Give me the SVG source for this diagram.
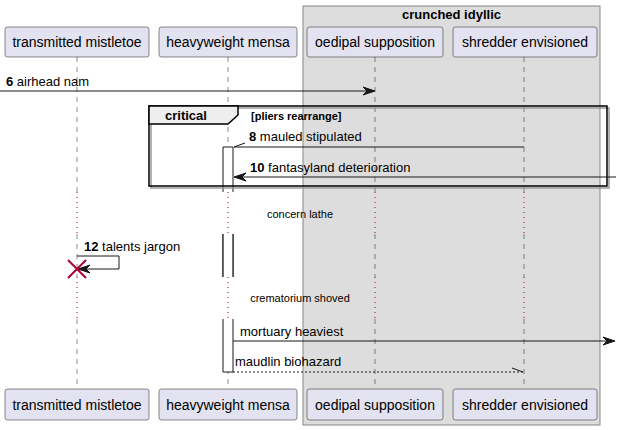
<svg xmlns="http://www.w3.org/2000/svg" width="621" height="430" viewBox="0 0 621 430">
<defs>
<style>
text{font-family:"Liberation Sans",Arial,sans-serif;fill:#000}
.pbox{fill:#E2E2F0;stroke:#181818;stroke-width:0.5}
.pt{font-size:14px;text-anchor:middle}
.life{stroke:#181818;stroke-width:0.5;stroke-dasharray:5,5;fill:none}
.delay{stroke:#A80036;stroke-width:1;stroke-dasharray:1,4;fill:none}
.msg{stroke:#181818;stroke-width:1;fill:none}
.dash{stroke:#181818;stroke-width:1;stroke-dasharray:2,2;fill:none}
.ah{fill:#181818;stroke:#181818;stroke-width:1}
.act{fill:#FFFFFF;stroke:#181818;stroke-width:1}
.mt{font-size:13px}
.b{font-weight:bold}
.dt{font-size:11px;text-anchor:middle}
</style>
</defs>
<g id="box-crunched-idyllic">
<rect x="303" y="6" width="297" height="419" fill="#DDDDDD" stroke="#888888" stroke-width="1"/>
<text x="451.5" y="19" font-size="13" font-weight="bold" text-anchor="middle">crunched idyllic</text>
</g>
<g id="lifelines">
<line class="life" x1="77" y1="57" x2="77" y2="192"/>
<line class="delay" x1="77" y1="192" x2="77" y2="234"/>
<line class="life" x1="77" y1="234" x2="77" y2="277"/>
<line class="delay" x1="77" y1="277" x2="77" y2="319"/>
<line class="life" x1="77" y1="319" x2="77" y2="389"/>
<line class="life" x1="228" y1="57" x2="228" y2="192"/>
<line class="delay" x1="228" y1="192" x2="228" y2="234"/>
<line class="life" x1="228" y1="234" x2="228" y2="277"/>
<line class="delay" x1="228" y1="277" x2="228" y2="319"/>
<line class="life" x1="228" y1="319" x2="228" y2="389"/>
<line class="life" x1="375" y1="57" x2="375" y2="192"/>
<line class="delay" x1="375" y1="192" x2="375" y2="234"/>
<line class="life" x1="375" y1="234" x2="375" y2="277"/>
<line class="delay" x1="375" y1="277" x2="375" y2="319"/>
<line class="life" x1="375" y1="319" x2="375" y2="389"/>
<line class="life" x1="524" y1="57" x2="524" y2="192"/>
<line class="delay" x1="524" y1="192" x2="524" y2="234"/>
<line class="life" x1="524" y1="234" x2="524" y2="277"/>
<line class="delay" x1="524" y1="277" x2="524" y2="319"/>
<line class="life" x1="524" y1="319" x2="524" y2="389"/>
</g>
<g id="activations">
<path class="act" d="M223,192 L223,147 L233,147 L233,192"/>
<path class="act" d="M223,234 L223,277 M233,234 L233,277" />
<rect x="223.5" y="234" width="9" height="43" fill="#FFFFFF" stroke="none"/>
<path class="act" d="M223,234 L223,277 M233,234 L233,277"/>
<path class="act" d="M223,319 L223,372 L233,372 L233,319"/>
</g>
<g id="frame-critical">
<rect x="151" y="108" width="458" height="80" fill="none" stroke="#999999" stroke-width="1.5"/>
<rect x="149" y="106" width="458" height="80" fill="none" stroke="#000000" stroke-width="1.5"/>
<path d="M149,106 L238,106 L238,115 L228,124 L149,124 Z" fill="#EEEEEE" stroke="#000000" stroke-width="1.5"/>
<text x="165" y="120" font-size="13" font-weight="bold">critical</text>
<text x="251" y="120" font-size="11" font-weight="bold">[pliers rearrange]</text>
</g>
<g id="connectors">
<g id="msg6">
<line class="msg" x1="0" y1="91" x2="373" y2="91"/>
<polygon class="ah" points="375,91 363,87 367,91 363,95"/>
<text class="mt" x="6" y="86"><tspan class="b">6</tspan> airhead nam</text>
</g>
<g id="msg8">
<line class="msg" x1="234" y1="147" x2="524" y2="147"/>
<line class="msg" x1="234" y1="147" x2="245" y2="143"/>
<text class="mt" x="249" y="141"><tspan class="b">8</tspan> mauled stipulated</text>
</g>
<g id="msg10">
<line class="msg" x1="235" y1="177" x2="616" y2="177"/>
<polygon class="ah" points="234,177 246,173 242,177 246,181"/>
<text class="mt" x="250" y="172"><tspan class="b">10</tspan> fantasyland deterioration</text>
</g>
<g id="delay1"><text class="dt" x="300" y="218">concern lathe</text></g>
<g id="msg12">
<polyline class="msg" points="77,256 119,256 119,269 80,269"/>
<polygon class="ah" points="78,269 90,265 86,269 90,273"/>
<text class="mt" x="84" y="251"><tspan class="b">12</tspan> talents jargon</text>
</g>
<g id="destroy">
<line x1="68" y1="260" x2="86" y2="278" stroke="#A80036" stroke-width="2"/>
<line x1="68" y1="278" x2="86" y2="260" stroke="#A80036" stroke-width="2"/>
</g>
<g id="delay2"><text class="dt" x="300" y="302">crematorium shoved</text></g>
<g id="msg-mortuary">
<line class="msg" x1="233" y1="341" x2="613" y2="341"/>
<polygon class="ah" points="615,341 603,337 607,341 603,345"/>
<text class="mt" x="240" y="336">mortuary heaviest</text>
</g>
<g id="msg-maudlin">
<line class="dash" x1="233" y1="372" x2="524" y2="372"/>
<line class="msg" x1="512" y1="368" x2="523" y2="372"/>
<text class="mt" x="235" y="366">maudlin biohazard</text>
</g>
</g>
<g id="p-transmitted-mistletoe">
<rect class="pbox" x="5" y="27" width="144" height="30" rx="2.5"/>
<text class="pt" x="77" y="47">transmitted mistletoe</text>
<rect class="pbox" x="5" y="389" width="144" height="31" rx="2.5"/>
<text class="pt" x="77" y="410">transmitted mistletoe</text>
</g>
<g id="p-heavyweight-mensa">
<rect class="pbox" x="159" y="27" width="138" height="30" rx="2.5"/>
<text class="pt" x="228" y="47">heavyweight mensa</text>
<rect class="pbox" x="159" y="389" width="138" height="31" rx="2.5"/>
<text class="pt" x="228" y="410">heavyweight mensa</text>
</g>
<g id="p-oedipal-supposition">
<rect class="pbox" x="307" y="27" width="136" height="30" rx="2.5"/>
<text class="pt" x="375" y="47">oedipal supposition</text>
<rect class="pbox" x="307" y="389" width="136" height="31" rx="2.5"/>
<text class="pt" x="375" y="410">oedipal supposition</text>
</g>
<g id="p-shredder-envisioned">
<rect class="pbox" x="453" y="27" width="144" height="30" rx="2.5"/>
<text class="pt" x="525" y="47">shredder envisioned</text>
<rect class="pbox" x="453" y="389" width="144" height="31" rx="2.5"/>
<text class="pt" x="525" y="410">shredder envisioned</text>
</g>
</svg>
